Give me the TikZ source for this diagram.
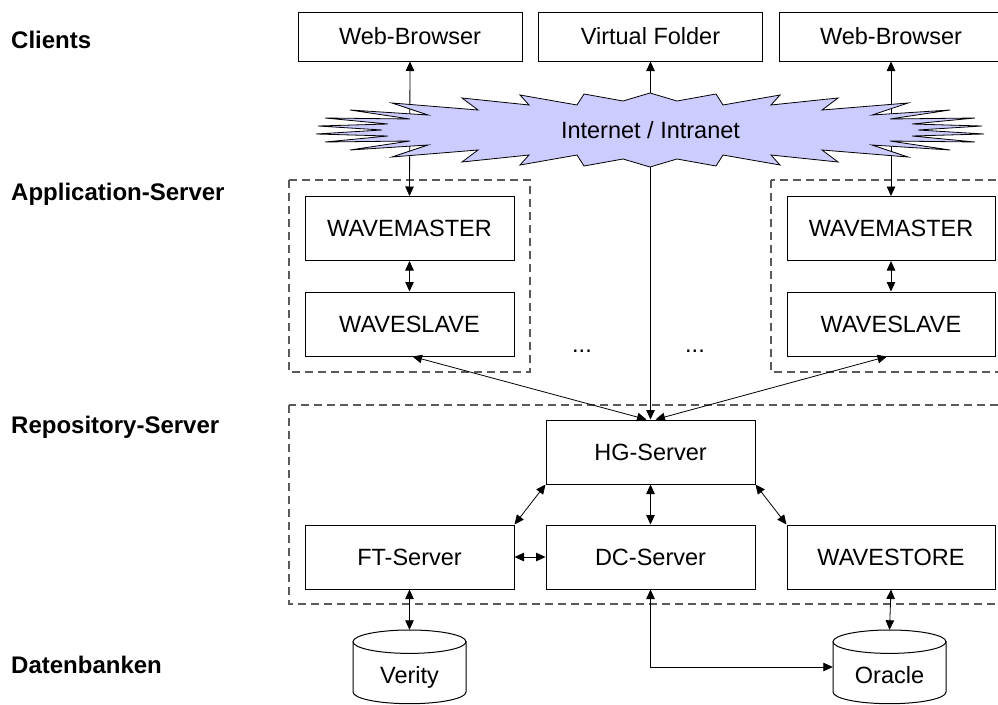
\documentclass[tikz,border=0pt]{standalone}
\usepackage{fontspec}
\setmainfont{Liberation Sans}
\usetikzlibrary{arrows.meta}
\definecolor{cloudfill}{RGB}{204,204,255}
\definecolor{dashgrey}{RGB}{90,90,90}
\begin{document}
\begin{tikzpicture}[x=1pt,y=-1pt,
  box/.style={draw, line width=1pt, inner sep=0pt, minimum width=209pt, minimum height=64pt, font=\fontsize{23.5}{28}\selectfont},
  topbox/.style={box, minimum width=224pt, minimum height=49pt},
  lbl/.style={anchor=base west, inner sep=0pt, font=\fontsize{24}{28}\selectfont\bfseries},
  txt/.style={inner sep=0pt, font=\fontsize{23.5}{28}\selectfont},
  grp/.style={draw=dashgrey, line width=1.1pt, dash pattern=on 8pt off 5pt},
  arr/.style={{Triangle[length=9.5pt,width=8.5pt]}-{Triangle[length=9.5pt,width=8.5pt]}, line width=0.8pt},
  cyl/.style={line width=1pt}
]
\clip (0,0) rectangle (998,704);

% left labels
\node[lbl] (lclients) at (11,48.5) {Clients};
\node[lbl] (lapp) at (11,200) {Application-Server};
\node[lbl] (lrepo) at (11,433) {Repository-Server};
\node[lbl] (ldb) at (11,673.5) {Datenbanken};

% group frames
\draw[grp] (289,180) rectangle (530,372);
\draw[grp] (771,180) rectangle (1010,372);
\draw[grp] (289,405) rectangle (1010,604);

% clients
\node[topbox] (wb1) at (410,36.5) {Web-Browser};
\node[topbox] (vf) at (650.5,36.5) {Virtual Folder};
\node[topbox] (wb2) at (891,36.5) {Web-Browser};

% application servers
\node[box] (wm1) at (409.5,228.5) {WAVEMASTER};
\node[box] (ws1) at (409.5,324) {WAVESLAVE};
\node[box, minimum width=208pt] (wm2) at (891,228.5) {WAVEMASTER};
\node[box, minimum width=208pt] (ws2) at (891,324) {WAVESLAVE};
\node[txt, anchor=base] (dots1) at (582,352) {...};
\node[txt, anchor=base] (dots2) at (695,352) {...};

% repository servers
\node[box] (hg) at (650.5,452) {HG-Server};
\node[box] (ft) at (409.5,557) {FT-Server};
\node[box] (dc) at (650.5,557) {DC-Server};
\node[box, minimum width=208pt] (wst) at (891,557) {WAVESTORE};

% databases (cylinders)
\foreach \cx in {409.5,889.5}{
  \draw[cyl] (\cx,641.7) ellipse [x radius=56.5, y radius=11.7];
  \draw[cyl] ({\cx-56.5},641.7) -- ({\cx-56.5},692)
     .. controls ({\cx-56.5},{692+6.46}) and ({\cx-31.2},703.7) .. (\cx,703.7)
     .. controls ({\cx+31.2},703.7) and ({\cx+56.5},{692+6.46}) .. ({\cx+56.5},692)
     -- ({\cx+56.5},641.7);
}
\node[txt, minimum width=113pt, minimum height=74pt] (verity) at (409.5,667) {};
\node[txt, minimum width=113pt, minimum height=74pt] (oracle) at (889.5,667) {};
\node[txt, anchor=base] (veritytxt) at (409.5,683.5) {Verity};
\node[txt, anchor=base] (oracletxt) at (889.5,683.5) {Oracle};

% connectors
\draw[arr] (wb1.south) -- (wm1.north);
\draw[arr] (vf.south) -- (hg.north);
\draw[arr] (wb2.south) -- (wm2.north);
\draw[arr] (wm1.south) -- (ws1.north);
\draw[arr] (wm2.south) -- (ws2.north);
\draw[arr] ([xshift=3pt]ws1.south) -- ([xshift=-4pt]hg.north);
\draw[arr] ([xshift=-4pt]ws2.south) -- ([xshift=5pt]hg.north);
\draw[arr] (hg.south west) -- (ft.north east);
\draw[arr] (hg.south) -- (dc.north);
\draw[arr] (hg.south east) -- (wst.north west);
\draw[arr] (ft.east) -- (dc.west);
\draw[arr] (ft.south) -- (verity.north);
\draw[arr] (wst.south) -- (oracle.north);
\draw[arr] (dc.south) |- (oracle.west);

% cloud
\begin{scope}[shift={(650,130)}]
\draw[fill=cloudfill, line width=0.8pt]
 (0,-37) -- (27,-29) -- (66,-36) -- (73,-25) -- (130,-35) -- (121,-25) -- (188,-32) -- (172,-20)
 -- (258,-27) -- (222,-15) -- (300,-20) -- (240,-11) -- (325,-12) -- (262,-6) -- (332,-4) -- (268,0)
 -- (334,4) -- (262,6) -- (325,12) -- (240,11) -- (300,20) -- (222,15) -- (258,27) -- (172,20)
 -- (188,32) -- (121,25) -- (130,35) -- (73,25) -- (66,36) -- (27,29) -- (0,37)
 -- (-27,29) -- (-66,36) -- (-73,25) -- (-130,35) -- (-121,25) -- (-188,32) -- (-172,20)
 -- (-258,27) -- (-222,15) -- (-300,20) -- (-240,11) -- (-325,12) -- (-262,6) -- (-334,4) -- (-268,0)
 -- (-332,-4) -- (-262,-6) -- (-325,-12) -- (-240,-11) -- (-300,-20) -- (-222,-15) -- (-258,-27) -- (-172,-20)
 -- (-188,-32) -- (-121,-25) -- (-130,-35) -- (-73,-25) -- (-66,-36) -- (-27,-29) -- cycle;
\end{scope}
\node[txt] (net) at (650.5,130) {Internet / Intranet};
\end{tikzpicture}
\end{document}
